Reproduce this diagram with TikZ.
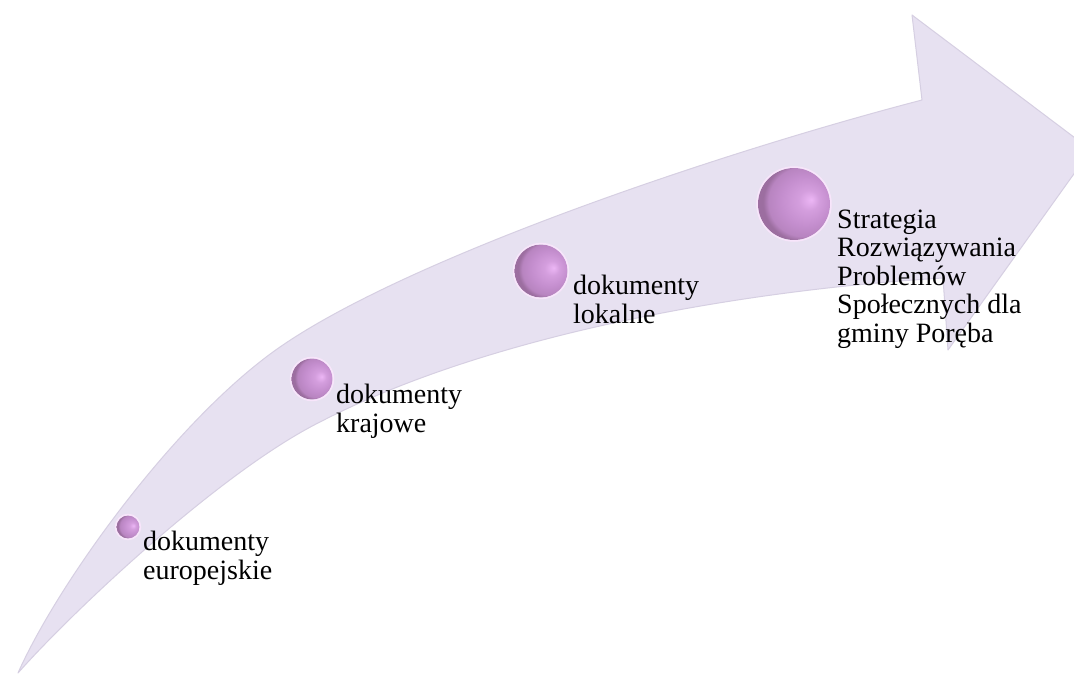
\documentclass[tikz,border=0pt]{standalone}
\usepackage{fontspec}
\setmainfont{Liberation Serif}
\definecolor{band}{RGB}{231,225,241}
\definecolor{bandedge}{RGB}{214,207,226}
\definecolor{orbhi}{RGB}{236,182,245}
\definecolor{orbmid}{RGB}{196,142,206}
\definecolor{orbdark}{RGB}{156,110,160}
\pgfdeclareradialshading{orb}{\pgfpoint{12bp}{3bp}}{color(0bp)=(orbhi); color(7bp)=(orbmid!60!orbhi); color(17bp)=(orbmid); color(24bp)=(orbmid!70!orbdark); color(27bp)=(orbdark); color(50bp)=(orbdark)}
\tikzset{
  lbl/.style={anchor=base west, align=left, inner sep=0pt, font=\fontsize{28}{28.5}\selectfont},
  orbstyle/.style={circle, inner sep=0pt, shading=orb},
  halo/.style={draw=orbhi!35, line width=1.5pt}
}
\begin{document}
\begin{tikzpicture}[x=1pt,y=-1pt]
\clip (0,0) rectangle (1074,677);
\fill[white] (0,0) rectangle (1074,677);
% band arrow
\filldraw[fill=band, draw=bandedge, line width=1pt, line join=round]
  (18,673) .. controls (58,583) and (176,419) .. (280,347)
  .. controls (410,257) and (722,152) .. (922,100)
  -- (912,15) -- (1091,150) -- (948,350) -- (943,278)
  .. controls (743,290) and (490,334) .. (320,422)
  .. controls (220,472) and (71,613) .. (18,673)
  -- cycle;
% orbs
\node[orbstyle, minimum size=23pt] (o1) at (128,527) {};
\node[orbstyle, minimum size=41pt] (o2) at (312,379) {};
\node[orbstyle, minimum size=53pt] (o3) at (541,271) {};
\node[orbstyle, minimum size=72pt] (o4) at (794,204) {};
\draw[halo] (o1.center) circle[radius=12.5];
\draw[halo] (o2.center) circle[radius=21.5];
\draw[halo] (o3.center) circle[radius=27.5];
\draw[halo] (o4.center) circle[radius=37];
% labels
\node[lbl] (t1) at (143,579) {dokumenty\\europejskie};
\node[lbl] (t2) at (336,432) {dokumenty\\krajowe};
\node[lbl] (t3) at (573,323) {dokumenty\\lokalne};
\node[lbl] (t4) at (837,342) {Strategia\\Rozwiązywania\\Problemów\\Społecznych dla\\gminy Poręba};
\end{tikzpicture}
\end{document}
